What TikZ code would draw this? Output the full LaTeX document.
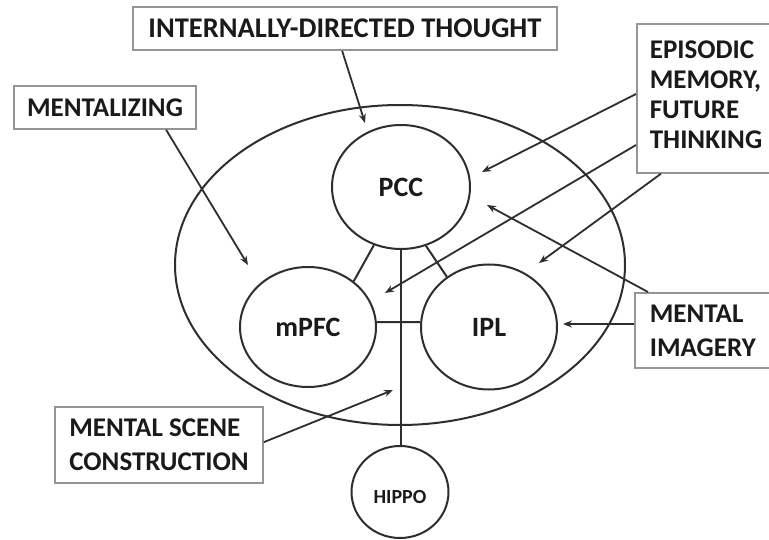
\documentclass[tikz,border=0pt]{standalone}
\usepackage{fontspec}
\setmainfont{Carlito}
\usetikzlibrary{shapes.geometric,arrows.meta,calc}
\definecolor{ln}{HTML}{2E2E2E}
\definecolor{boxgray}{HTML}{959595}
\definecolor{txt}{HTML}{1A1A1A}
\begin{document}
\begin{tikzpicture}[x=1pt,y=-1pt,
  lbl/.style={draw=boxgray, line width=1.7pt, fill=white, inner sep=0pt,
    font=\bfseries\fontsize{27}{34}\selectfont, text=txt},
  region/.style={ellipse, draw=ln, line width=2pt, inner sep=0pt,
    font=\bfseries\fontsize{28}{30}\selectfont, text=txt},
  conn/.style={draw=ln, line width=2pt},
  arr/.style={draw=ln, line width=1.8pt, -{Stealth[length=9pt,width=7pt]}}]
\useasboundingbox (0,0) rectangle (769,540);
\clip (0,0) rectangle (769,540);
\fill[white] (0,0) rectangle (769,540);

% outer network ellipse
\node[ellipse, draw=ln, line width=2pt, minimum width=450, minimum height=320, inner sep=0pt] (dmn) at (400,265) {};

% regions
\node[region, minimum width=138, minimum height=124] (pcc) at (401,187) {PCC};
\node[region, minimum width=136, minimum height=120] (mpfc) at (308,327) {mPFC};
\node[region, minimum width=136, minimum height=125] (ipl) at (489,327) {IPL};
\node[region, minimum width=97, minimum height=92, font=\bfseries\fontsize{20}{22}\selectfont] (hippo) at (400,492) {\rule{0pt}{24pt}HIPPO};

% connections between regions
\draw[conn] (pcc.245) -- (mpfc.45);
\draw[conn] (pcc.293) -- (ipl.130);
\draw[conn] (mpfc.4) -- (ipl.176);
\draw[conn] (pcc.south) -- (pcc.south |- hippo.north);

% label boxes
\node[lbl, minimum width=424, minimum height=43, font=\bfseries\fontsize{28.5}{30}\selectfont] (itd) at (345,28.5) {INTERNALLY-DIRECTED THOUGHT};
\node[lbl, minimum width=182, minimum height=43] (men) at (105,107.5) {MENTALIZING};
\node[lbl, minimum width=208, minimum height=76, align=left] (msc) at (159,445) {MENTAL SCENE\\CONSTRUCTION};
\node[lbl, anchor=north west, minimum height=75, text width=125, inner xsep=15pt, align=left] (img) at (634,292) {MENTAL\\IMAGERY};
\node[lbl, anchor=north west, minimum height=149, text width=125, inner xsep=13pt, align=left,
  font=\bfseries\fontsize{27}{30}\selectfont] (epi) at (636,23) {EPISODIC\\MEMORY,\\FUTURE\\THINKING\rule[-8pt]{0pt}{8pt}};

% arrow tips
\coordinate (itdtip) at (365,123);
\coordinate (mentip) at (248,265);
\coordinate (e1tip) at (482,172);
\coordinate (e2tip) at (385,293);
\coordinate (e3tip) at (539,263);
\coordinate (i1tip) at (487,205);
\coordinate (i2tip) at (563,324);
\coordinate (msctip) at (393,390);

% arrows
\draw[arr] ($(itd.south west)+(210,0)$) -- (itdtip);
\draw[arr] ($(men.south west)+(153,0)$) -- (mentip);
\draw[arr] ($(epi.north west)+(0,71)$) -- (e1tip);
\draw[arr] ($(epi.north west)+(0,122)$) -- (e2tip);
\draw[arr] ($(epi.south west)+(25,0)$) -- (e3tip);
\draw[arr] ($(img.north west)+(14,0)$) -- (i1tip);
\draw[arr] ($(img.north west)+(0,32)$) -- (i2tip);
\draw[arr] ($(msc.north east)+(0,36)$) -- (msctip);
\end{tikzpicture}
\end{document}
